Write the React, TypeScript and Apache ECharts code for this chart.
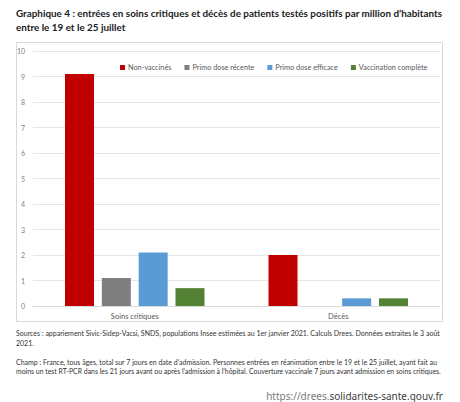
import React, { useEffect, useRef } from "react";
import * as echarts from "echarts";

const categories = ["Soins critiques", "Décès"];
const seriesNames = ["Non-vaccinés", "Primo dose récente", "Primo dose efficace", "Vaccination complète"];
const nonVaccines = [9.1, 2.0];
const primoRecente = [1.1, 0];
const primoEfficace = [2.1, 0.3];
const vaccinationComplete = [0.7, 0.3];
const yTicks = [0, 1, 2, 3, 4, 5, 6, 7, 8, 9, 10];

const titleLines = [
  "Graphique 4 : entrées en soins critiques et décès de patients testés positifs par million d\u2019habitants",
  "entre le 19 et le 25 juillet",
];
const sourceLines = [
  "Sources : appariement Sivic-Sidep-Vacsi, SNDS, populations Insee estimées au 1er janvier 2021. Calculs Drees. Données extraites le 3 août",
  "2021.",
];
const champLines = [
  "Champ : France, tous âges, total sur 7 jours en date d\u2019admission. Personnes entrées en réanimation entre le 19 et le 25 juillet, ayant fait au",
  "moins un test RT-PCR dans les 21 jours avant ou après l\u2019admission à l\u2019hôpital. Couverture vaccinale 7 jours avant admission en soins critiques.",
];

const colors = ["#C00000", "#7F7F7F", "#5B9BD5", "#548235"];
const FONT = "Lato";

export default function App() {
  const ref = useRef<HTMLDivElement>(null);
  useEffect(() => {
    if (!ref.current) return;
    const chart = echarts.init(ref.current, undefined, { renderer: "svg" });
    const data = [nonVaccines, primoRecente, primoEfficace, vaccinationComplete];
    const textLine = (t: string, y: number, size: number, weight: string, color: string) => ({
      type: "text",
      left: 16,
      top: y,
      style: { text: t, fontFamily: FONT, fontSize: size, fontWeight: weight, fill: color },
    });
    chart.setOption({
      animation: false,
      backgroundColor: "#ffffff",
      color: colors,
      grid: { left: 33, right: 20, top: 51, bottom: 96, containLabel: false },
      legend: {
        top: 59,
        left: 115,
        itemWidth: 5,
        itemHeight: 5,
        itemGap: 13,
        icon: "rect",
        textStyle: { fontFamily: FONT, fontSize: 7.3, color: "#595959", padding: [0, 0, 0, -2] },
        data: seriesNames,
      },
      xAxis: {
        type: "category",
        data: categories,
        axisLine: { lineStyle: { color: "#d9d9d9" } },
        axisTick: { show: false },
        axisLabel: { fontFamily: FONT, fontSize: 7.5, color: "#595959", margin: 6 },
      },
      yAxis: {
        type: "value",
        min: yTicks[0],
        max: yTicks[yTicks.length - 1],
        interval: 1,
        axisLine: { show: false },
        axisTick: { show: false },
        splitLine: { lineStyle: { color: "#e6e6e6" } },
        axisLabel: { fontFamily: FONT, fontSize: 7, color: "#7f7f7f", margin: 8 },
      },
      series: seriesNames.map((name, i) => ({
        name,
        type: "bar",
        data: data[i],
        barWidth: 29,
        barGap: "27%",
        itemStyle: { color: colors[i] },
      })),
      graphic: [
        {
          type: "rect",
          shape: { x: 16.5, y: 42.5, width: 426, height: 279 },
          style: { fill: "none", stroke: "#d9d9d9", lineWidth: 1 },
          z: -1,
        },
        textLine(titleLines[0], 8, 9.9, "bold", "#1a1a1a"),
        textLine(titleLines[1], 22, 9.9, "bold", "#1a1a1a"),
        textLine(sourceLines[0], 329, 7.0, "normal", "#333333"),
        textLine(sourceLines[1], 339, 7.0, "normal", "#333333"),
        textLine(champLines[0], 358, 7.0, "normal", "#333333"),
        textLine(champLines[1], 367, 6.9, "normal", "#333333"),
        {
          type: "text",
          right: 17,
          top: 391,
          style: {
            text: "{a|https://drees.}{b|solidarites-sante.gouv.fr}",
            rich: {
              a: { fontFamily: "Noto Sans", fontSize: 10, fill: "#7a7a7a", color: "#7a7a7a" },
              b: { fontFamily: "Noto Sans", fontSize: 10, fill: "#404040", color: "#404040" },
            },
          },
        },
      ],
    });
    return () => chart.dispose();
  }, []);
  return (
    <div
      ref={ref}
      style={{ position: "fixed", left: 0, top: 0, width: 460, height: 402 }}
    />
  );
}
